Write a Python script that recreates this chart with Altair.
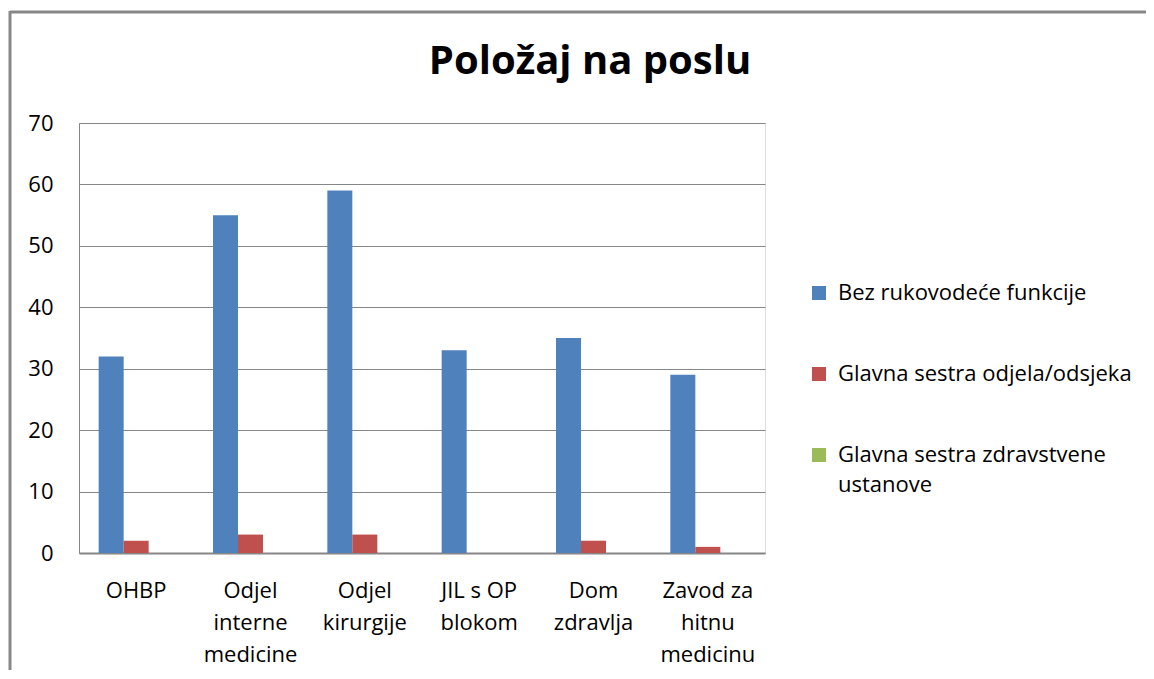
import altair as alt
import pandas as pd

categories = ["OHBP", "Odjel\ninterne\nmedicine", "Odjel\nkirurgije", "JIL s OP\nblokom", "Dom\nzdravlja", "Zavod za\nhitnu\nmedicinu"]
series = ["Bez rukovodeće funkcije", "Glavna sestra odjela/odsjeka", "Glavna sestra zdravstvene ustanove"]
bez = [32, 55, 59, 33, 35, 29]
odjel = [2, 3, 3, 0, 2, 1]
ustanova = [0, 0, 0, 0, 0, 0]
colors = ["#4F81BD", "#C0504D", "#9BBB59"]
y_ticks = [0, 10, 20, 30, 40, 50, 60, 70]

rows = []
for vals, s in zip([bez, odjel, ustanova], series):
    for c, v in zip(categories, vals):
        rows.append({"cat": c, "series": s, "value": v})
df = pd.DataFrame(rows)

FONT = "Open Sans"
GRAY = "#868686"

bars = alt.Chart(df).mark_bar().encode(
    x=alt.X("cat:N", sort=categories, title=None,
            scale=alt.Scale(paddingInner=0.344, paddingOuter=0.172),
            axis=alt.Axis(labelExpr="split(datum.label, '\\n')", labelAngle=0,
                          labelFontSize=22, labelLineHeight=32, labelPadding=27,
                          ticks=False, domainColor=GRAY, domainWidth=2,
                          labelColor="#000000", labelFont=FONT, grid=False)),
    xOffset=alt.XOffset("series:N", sort=series, scale=alt.Scale(paddingInner=0, paddingOuter=0)),
    y=alt.Y("value:Q", title=None, scale=alt.Scale(domain=[0, 70], nice=False),
            axis=alt.Axis(values=y_ticks, labelFontSize=22, labelPadding=26, ticks=False,
                          domainColor=GRAY, domainWidth=1, gridColor=GRAY, gridWidth=1,
                          labelColor="#000000", labelFont=FONT)),
    color=alt.Color("series:N", sort=series,
                    scale=alt.Scale(domain=series, range=colors),
                    legend=alt.Legend(title=None, orient="none", legendX=729, legendY=159,
                                      symbolType="square", symbolSize=196, symbolStrokeWidth=0,
                                      labelFontSize=22, labelFont=FONT, labelColor="#000000",
                                      labelLimit=1000, labelOffset=8, rowPadding=59,
                                      labelExpr="datum.label == 'Glavna sestra zdravstvene ustanove' ? ['Glavna sestra zdravstvene', 'ustanove'] : datum.label")),
)

border_top = alt.Chart(pd.DataFrame({"k": [0]})).mark_rule(color="#878787", strokeWidth=3).encode(
    x=alt.value(-69), x2=alt.value(1075), y=alt.value(-111))
border_left = alt.Chart(pd.DataFrame({"k": [0]})).mark_rule(color="#878787", strokeWidth=3).encode(
    x=alt.value(-69), y=alt.value(-112), y2=alt.value(560))

chart = alt.layer(bars, border_top, border_left).properties(
    width=686, height=430,
    autosize=alt.AutoSizeParams(type="none"),
    padding={"left": 71, "top": 115, "right": 381, "bottom": 117},
    title=alt.TitleParams("Položaj na poslu", fontSize=40, fontWeight="bold", font=FONT,
                          color="#000000", anchor="middle", frame="group", dx=168,
                          baseline="alphabetic", offset=-104),
).configure_view(strokeWidth=0).configure(font=FONT, style={"guide-label": {"lineHeight": 30}})

chart.save("out.html", embed_options={"renderer": "svg", "actions": False})
